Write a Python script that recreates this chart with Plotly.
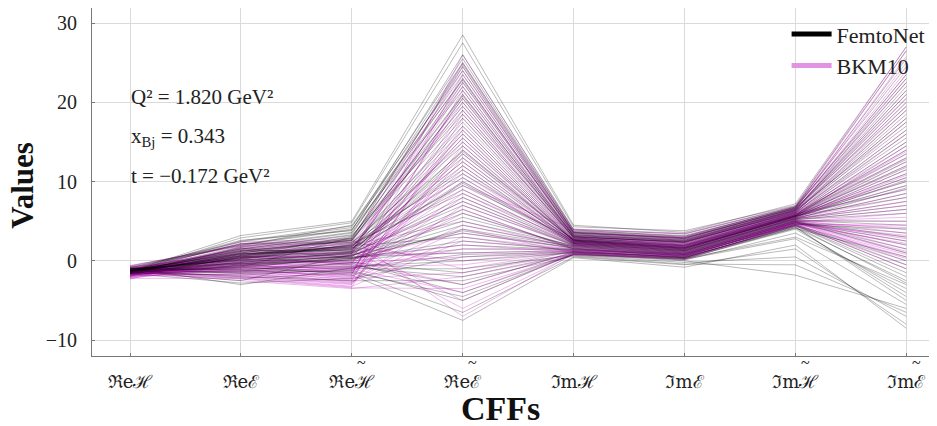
import plotly.graph_objects as go

# Full labels (with tilde); the tilde is drawn as a separate text mark above the letter
categories = ["ℜeℋ", "ℜeℰ", "ℜeℋ̃", "ℜeℰ̃", "ℑmℋ", "ℑmℰ", "ℑmℋ̃", "ℑmℰ̃"]

# FemtoNet samples (one value per sample for each CFF)
f_ReH = [-1.3,-1.1,-1.5,-1.2,-1.4,-0.9,-1.6,-1.3,-1.0,-1.2, -1.5,-1.3,-1.7,-1.1,-1.4,-0.8,-1.2,-1.3,-1.6,-1.0,
         -1.4,-1.2,-1.1,-1.5,-1.3,-0.7,-1.8,-1.2,-1.4,-1.3, -1.1,-1.6,-1.0,-1.3,-1.5,-1.2,-1.4,-0.9,-1.3,-1.7,
         -1.2,-1.0,-1.4,-1.3,-1.6,-1.1,-1.5,-1.2,-1.9,-1.3, -1.0,-1.4,-1.2,-1.5,-1.1,-1.3,-0.8,-1.6,-1.2,-1.4,
         -1.3,-1.1,-1.5,-1.0,-1.3,-1.7,-1.2,-1.4,-0.9,-1.3, -1.2,-1.5]
f_ReE = [0.5,-0.8,1.6,0.2,-1.5,2.4,0.9,-0.3,1.2,-2.2, 0.0,1.8,-0.6,0.7,2.9,-1.1,0.4,1.3,-2.8,0.1,
         0.8,-0.4,1.5,-1.8,0.3,2.1,-0.9,1.0,-0.2,0.6, 2.6,-1.3,0.2,1.4,-0.7,0.9,-2.5,1.9,0.4,-0.1,
         1.1,-1.6,0.6,2.2,-0.5,0.0,1.7,-1.0,0.5,3.2, -0.3,0.8,-2.0,1.3,0.1,-0.8,2.0,0.7,-1.4,0.3,
         1.5,-0.2,0.9,-1.2,2.5,0.4,-0.6,1.2,-3.0,0.6, 1.0,-0.4]
f_ReHt = [1.2,3.0,0.4,2.1,-0.8,4.2,1.6,0.0,2.8,-1.5, 1.0,3.6,0.7,1.9,4.8,-0.3,2.4,1.3,-2.2,0.9,
          2.2,0.3,3.3,-1.0,1.5,4.0,0.6,2.6,1.1,-0.5, 3.8,0.2,1.8,2.9,-1.8,1.4,0.8,4.5,2.0,0.5,
          1.7,-1.2,3.1,2.3,0.1,1.0,3.5,-0.7,2.7,5.0, 0.6,1.9,-2.5,2.5,1.2,0.4,3.9,1.6,-0.2,2.0,
          3.2,0.9,1.4,-1.4,4.4,1.1,0.3,2.6,-0.9,1.8, 2.8,0.7]
f_ReEt = [12.5,22.0,4.5,17.0,-2.0,25.5,9.0,1.5,19.5,-6.5, 7.0,23.5,14.0,3.0,27.5,-4.0,11.0,20.5,0.5,15.5,
          8.5,2.5,24.5,-1.0,13.0,21.5,6.0,18.0,10.0,-3.0, 26.0,5.5,16.5,22.5,-7.5,12.0,3.5,24.0,9.5,1.0,
          17.5,-5.0,20.0,14.5,4.0,8.0,23.0,0.0,19.0,28.5, 6.5,11.5,-2.5,21.0,13.5,2.0,25.0,10.5,-1.5,15.0,
          18.5,7.5,16.0,-4.5,22.8,9.8,3.8,20.8,0.8,13.8, 24.8,5.0]
f_ImH = [2.4,3.1,1.8,2.7,0.9,3.8,2.2,1.5,3.3,0.5, 2.0,3.5,2.6,1.2,4.3,0.8,2.8,3.0,1.0,2.5,
         2.1,1.4,3.6,0.7,2.3,3.2,1.7,2.9,2.4,1.1, 4.0,1.9,2.6,3.4,0.4,2.2,1.6,3.7,2.7,1.3,
         2.8,0.9,3.0,2.5,1.8,2.1,3.3,1.0,2.9,4.5, 1.5,2.4,0.6,3.1,2.6,1.4,3.9,2.3,1.2,2.7,
         3.0,2.0,2.5,0.8,3.5,2.2,1.6,3.2,1.1,2.6, 3.6,1.9]
f_ImE = [1.5,2.3,0.8,1.9,0.2,3.2,1.3,0.6,2.6,-0.5, 1.1,2.8,1.7,0.4,3.8,0.0,2.0,2.4,0.3,1.6,
         1.2,0.7,2.9,-0.2,1.4,2.5,0.9,2.1,1.5,0.5, 3.4,1.0,1.8,2.7,-0.8,1.3,0.6,3.0,1.9,0.4,
         2.2,0.1,2.4,1.6,0.9,1.2,2.6,0.3,2.0,3.6, 0.8,1.5,-0.4,2.3,1.7,0.7,3.1,1.4,0.5,1.9,
         2.4,1.1,1.6,0.2,2.9,1.3,0.8,2.5,0.4,1.7, 2.8,1.0]
f_ImHt = [5.6,6.2,4.9,5.8,4.2,6.7,5.3,4.6,6.4,1.5, 5.1,6.5,5.7,4.4,7.0,-1.8,5.9,6.1,3.0,5.5,
          5.2,4.5,6.6,0.5,5.4,6.3,4.8,6.0,5.6,4.3, 6.9,5.0,5.7,6.4,2.0,5.3,4.7,6.8,5.8,4.1,
          5.9,3.5,6.2,5.5,4.9,5.2,6.5,4.0,6.0,7.2, 4.6,5.6,-0.5,6.3,5.7,4.5,6.8,5.4,4.2,5.8,
          6.1,5.1,5.6,2.8,6.6,5.3,4.8,6.4,4.4,5.7, 6.7,5.0]
f_ImEt = [10.0,18.5,2.0,14.0,-4.5,23.5,7.5,-1.0,20.0,-8.0, 5.0,21.5,12.5,0.0,26.5,-6.0,9.0,16.5,-3.0,11.5,
          6.5,-2.0,19.5,-7.0,8.5,17.0,3.5,13.5,9.5,-5.0, 24.5,1.0,12.0,22.0,-8.5,7.0,-0.5,25.5,15.0,0.5,
          13.0,-3.5,18.0,10.5,2.5,6.0,20.5,-4.0,15.5,27.0, 4.0,11.0,-6.5,19.0,8.0,-1.5,23.0,10.2,-2.5,12.8,
          16.0,4.5,14.5,-5.5,21.0,9.2,1.5,17.5,-2.8,11.8, 22.5,3.0]

# BKM10 samples
b_ReH = [-1.4,-1.8,-1.1,-2.1,-1.3,-0.6,-1.6,-1.9,-1.2,-1.5, -2.2,-1.0,-1.4,-1.7,-0.8,-1.3,-2.0,-1.5,-1.1,-1.6,
         -1.8,-1.2,-2.3,-1.4,-0.7,-1.5,-1.9,-1.3,-1.0,-1.7, -1.4,-2.1,-1.2,-1.6,-0.9,-1.5,-1.8,-1.3,-2.0,-1.1,
         -1.6,-1.4,-0.6,-1.7,-1.2,-1.9,-1.5,-1.3,-2.2,-1.0, -1.4,-1.6,-1.1,-1.8,-1.3,-0.8,-1.5,-2.0,-1.2,-1.7]
b_ReE = [-0.3,1.2,-1.5,0.6,-2.3,1.9,-0.8,0.2,-1.1,2.4, -0.5,0.9,-2.0,0.4,-1.3,1.5,-0.1,-0.7,2.1,-1.8,
         0.7,-0.4,1.1,-2.5,0.0,-0.9,1.7,-1.4,0.3,-0.6, 2.2,-1.0,0.5,-1.7,1.3,-0.2,-2.1,0.8,-0.5,1.6,
         -1.2,0.1,2.0,-0.8,0.6,-1.6,1.0,-0.3,-2.2,0.4, -0.6,1.4,-1.0,0.2,-1.9,0.9,-0.4,1.8,-1.3,0.0]
b_ReHt = [-0.8,1.5,-2.6,0.4,-3.4,2.3,-1.5,-0.2,-2.0,2.8, -1.1,0.9,-3.0,0.2,-1.8,1.8,-0.5,-1.3,2.5,-2.8,
          0.6,-0.9,1.2,-3.5,-0.3,-1.6,2.0,-2.3,0.0,-1.0, 2.6,-1.9,0.5,-2.5,1.4,-0.6,-3.2,1.0,-1.2,1.7,
          -2.1,-0.1,2.2,-1.4,0.3,-2.7,1.1,-0.7,-3.3,0.7, -1.0,1.6,-2.2,-0.4,-2.9,0.8,-1.7,2.1,-2.4,-0.2]
b_ReEt = [11.0,20.5,3.0,16.0,-3.5,24.0,8.0,0.5,18.5,-7.0, 6.0,22.0,13.0,2.0,26.0,-5.0,10.0,19.0,-1.0,14.5,
          7.5,1.5,23.0,-2.0,12.0,21.0,5.0,17.0,9.0,-4.0, 25.0,4.5,15.5,21.5,-6.0,11.5,2.5,22.5,8.5,0.0,
          16.5,-3.0,19.5,13.5,3.5,7.0,24.5,-0.5,18.0,9.5, 6.5,12.5,-1.5,20.0,14.0,1.0,23.5,10.5,4.0,15.0]
b_ImH = [2.2,2.9,1.5,2.5,0.8,3.6,2.0,1.3,3.0,0.9, 1.8,3.3,2.4,1.1,3.9,1.0,2.6,2.8,1.2,2.3,
         1.9,1.4,3.4,0.7,2.1,3.1,1.6,2.7,2.2,1.0, 3.7,1.7,2.4,3.2,0.8,2.0,1.5,3.5,2.5,1.3,
         2.6,1.1,2.9,2.3,1.7,1.9,3.1,1.2,2.7,4.0, 1.4,2.2,0.9,2.9,2.4,1.3,3.6,2.1,1.0,2.5]
b_ImE = [1.6,2.2,1.0,1.9,0.4,2.9,1.4,0.8,2.5,0.3, 1.2,2.7,1.8,0.6,3.4,0.5,2.0,2.3,0.7,1.7,
         1.3,0.9,2.8,0.2,1.5,2.4,1.1,2.1,1.6,0.6, 3.1,1.2,1.8,2.6,0.4,1.4,0.9,3.0,1.9,0.7,
         2.0,0.5,2.3,1.7,1.0,1.3,2.6,0.6,2.1,3.5, 0.9,1.6,0.3,2.4,1.8,0.8,2.9,1.5,0.7,1.9]
b_ImHt = [5.6,6.1,5.0,5.8,4.5,6.6,5.4,4.8,6.3,4.6, 5.2,6.4,5.7,4.7,6.8,4.9,5.9,6.0,5.1,5.5,
          5.3,4.8,6.5,4.4,5.5,6.2,5.0,6.0,5.6,4.7, 6.7,5.1,5.7,6.3,4.5,5.4,4.9,6.6,5.8,4.6,
          5.9,4.8,6.1,5.5,5.0,5.3,6.4,4.7,6.0,6.9, 4.9,5.6,4.5,6.2,5.7,4.8,6.6,5.4,4.6,5.8]
b_ImEt = [11.0,19.5,4.0,15.0,0.5,24.0,8.5,2.0,21.0,-1.0, 6.5,22.5,13.0,3.0,26.5,0.0,10.0,17.5,1.5,12.5,
          7.5,2.5,20.5,-0.5,9.5,18.0,5.0,14.5,10.5,1.0, 25.0,3.5,13.5,23.0,0.8,8.0,2.8,25.8,16.0,4.5,
          14.0,1.2,19.0,11.5,5.5,7.0,21.5,3.2,16.5,27.0, 6.0,12.0,0.3,20.0,9.0,4.2,23.5,10.8,2.2,13.8]

femto_cols = [f_ReH, f_ReE, f_ReHt, f_ReEt, f_ImH, f_ImE, f_ImHt, f_ImEt]
bkm_cols = [b_ReH, b_ReE, b_ReHt, b_ReEt, b_ImH, b_ImE, b_ImHt, b_ImEt]

x_idx = list(range(len(categories)))
FONT = "Liberation Serif, DejaVu Serif, serif"
TICKFONT = "DejaVu Serif, Liberation Serif, serif"
FEMTO_COLOR = "rgba(0,0,0,0.27)"
BKM_COLOR = "rgba(190,0,190,0.27)"

tick_text = [c.replace("\u0303", "") for c in categories]
has_tilde = ["\u0303" in c for c in categories]

fig = go.Figure()

def add_line(cols, i, color):
    fig.add_trace(go.Scatter(
        x=x_idx, y=[c[i] for c in cols], mode="lines",
        line=dict(color=color, width=1), showlegend=False, hoverinfo="skip"))

# interleave the two ensembles so neither sits entirely on top
n_f, n_b = len(f_ReH), len(b_ReH)
for i in range(max(n_f, n_b)):
    if i < n_f:
        add_line(femto_cols, i, FEMTO_COLOR)
    if i < n_b:
        add_line(bkm_cols, i, BKM_COLOR)

fig.add_trace(go.Scatter(x=[None], y=[None], mode="lines", name="FemtoNet",
                         line=dict(color="black", width=5)))
fig.add_trace(go.Scatter(x=[None], y=[None], mode="lines", name="BKM10",
                         line=dict(color="#E393E3", width=5)))

ann_font = dict(family=FONT, size=21, color="#222")
for yv, txt in [(20.7, "Q² = 1.820 GeV²"), (15.6, "x<sub>Bj</sub> = 0.343"), (10.7, "t = −0.172 GeV²")]:
    fig.add_annotation(x=0, y=yv, xref="x", yref="y", text=txt, showarrow=False,
                       xanchor="left", yanchor="middle", xshift=-1, font=ann_font)

# tildes over the script letters of the tick labels
for i, t in enumerate(has_tilde):
    if t:
        fig.add_annotation(x=i, y=0, xref="x", yref="paper", text="~", showarrow=False,
                           xanchor="center", yanchor="middle", xshift=10, yshift=-6,
                           font=dict(family=FONT, size=16, color="#222"))

# axis titles
fig.add_annotation(x=0.484, y=0, xref="paper", yref="paper", text="<b>CFFs</b>", showarrow=False,
                   xanchor="center", yanchor="middle", yshift=-52,
                   font=dict(family=FONT, size=34, color="#111"))
fig.add_annotation(x=0, y=0.489, xref="paper", yref="paper", text="<b>Values</b>", showarrow=False,
                   xanchor="center", yanchor="middle", xshift=-69, textangle=-90,
                   font=dict(family=FONT, size=31, color="#111"))

fig.update_layout(
    width=929, height=418,
    margin=dict(l=84, r=0, t=0, b=70),
    paper_bgcolor="white", plot_bgcolor="white",
    font=dict(family=FONT, size=18, color="#222"),
    legend=dict(x=0.822, y=0.985, xanchor="left", yanchor="top",
                bgcolor="rgba(0,0,0,0)", font=dict(family=FONT, size=22, color="#222"),
                itemwidth=40, tracegroupgap=2),
    xaxis=dict(
        range=[-0.343, 7.277], tickmode="array", tickvals=x_idx, ticktext=tick_text,
        showgrid=True, gridcolor="#dadada", gridwidth=1, zeroline=False,
        showline=True, linecolor="#777", linewidth=1, mirror=True, automargin=False,
        ticks="inside", ticklen=3, tickcolor="#777", ticklabelstandoff=9,
        tickfont=dict(family=TICKFONT, size=18, color="#222"),
    ),
    yaxis=dict(
        range=[-12.0, 31.9], tickvals=[-10, 0, 10, 20, 30],
        ticktext=["−10", "0", "10", "20", "30"],
        showgrid=True, gridcolor="#dadada", gridwidth=1, zeroline=False,
        showline=True, linecolor="#777", linewidth=1, mirror=True, automargin=False,
        ticks="inside", ticklen=3, tickcolor="#777", ticklabelstandoff=10,
        tickfont=dict(family=FONT, size=20, color="#222"),
    ),
)

fig.write_html("out.html")
